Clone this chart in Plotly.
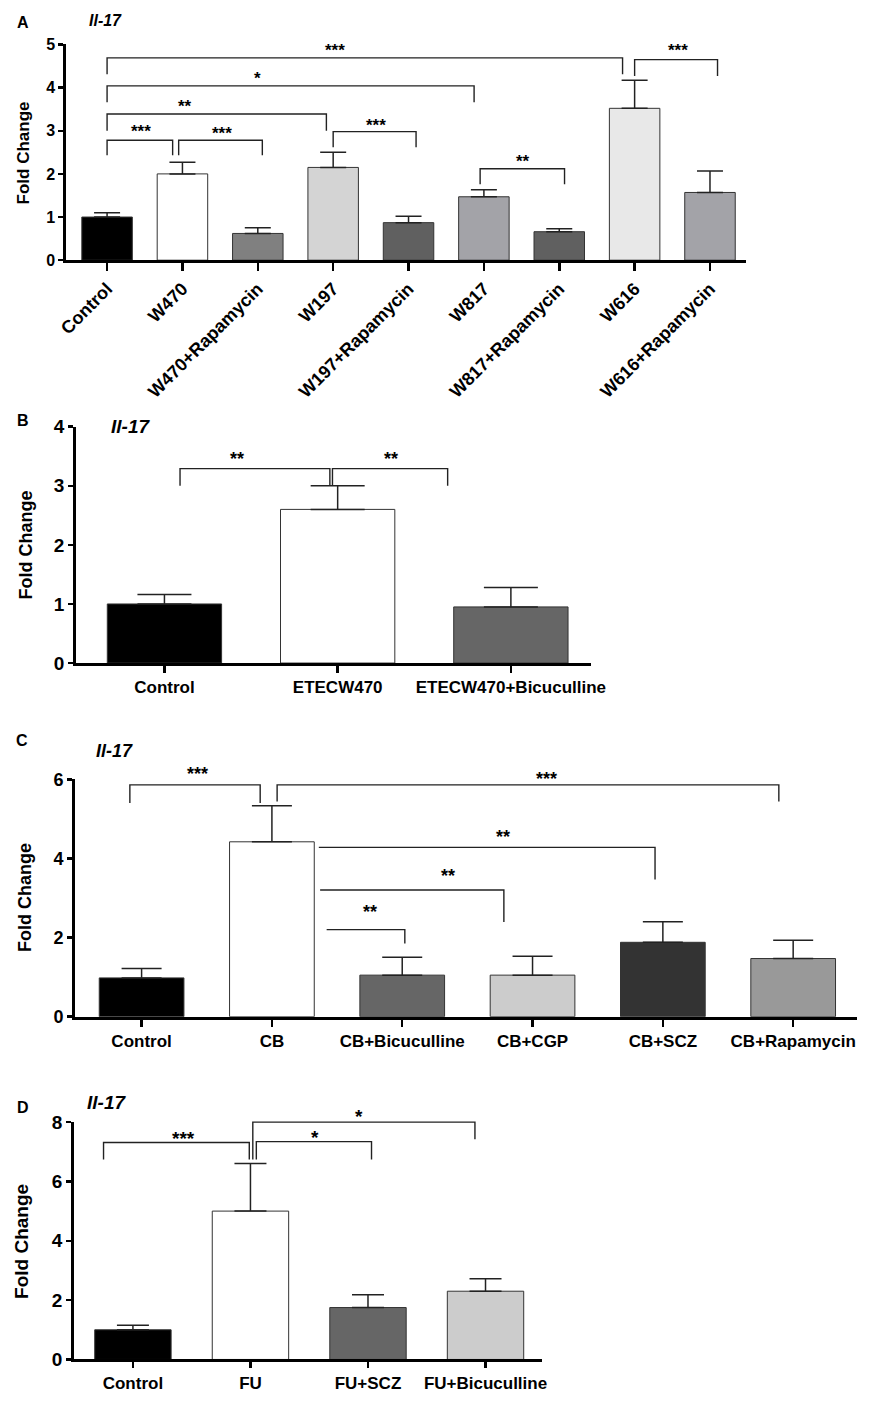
import plotly.graph_objects as go

W, H = 873, 1401
FONT = "Liberation Sans, Arial, sans-serif"

# ---------------- data ----------------
a_cats = ["Control", "W470", "W470+Rapamycin", "W197", "W197+Rapamycin",
          "W817", "W817+Rapamycin", "W616", "W616+Rapamycin"]
a_vals = [1.0, 2.0, 0.62, 2.15, 0.87, 1.47, 0.66, 3.52, 1.57]
a_errs = [0.10, 0.27, 0.13, 0.35, 0.15, 0.16, 0.07, 0.65, 0.50]
a_colors = ["#000000", "#ffffff", "#808080", "#d4d4d4", "#606060",
            "#a3a3a8", "#606060", "#e8e8e8", "#a3a3a8"]

b_cats = ["Control", "ETECW470", "ETECW470+Bicuculline"]
b_vals = [1.0, 2.6, 0.95]
b_errs = [0.16, 0.40, 0.33]
b_colors = ["#000000", "#ffffff", "#666666"]

c_cats = ["Control", "CB", "CB+Bicuculline", "CB+CGP", "CB+SCZ", "CB+Rapamycin"]
c_vals = [0.98, 4.42, 1.05, 1.05, 1.88, 1.47]
c_errs = [0.24, 0.91, 0.45, 0.48, 0.52, 0.46]
c_colors = ["#000000", "#ffffff", "#666666", "#cccccc", "#333333", "#999999"]

d_cats = ["Control", "FU", "FU+SCZ", "FU+Bicuculline"]
d_vals = [1.0, 5.0, 1.75, 2.3]
d_errs = [0.15, 1.6, 0.43, 0.42]
d_colors = ["#000000", "#ffffff", "#666666", "#cccccc"]

# significance brackets: (x_left, x_right, y_top, y_left_end, y_right_end, label, label_x, label_y)
a_sig = [
    (0.0, 0.87, 2.78, 2.43, 2.43, "***", 0.45, 3.08),
    (0.95, 2.06, 2.78, 2.43, 2.43, "***", 1.53, 3.04),
    (0.0, 2.91, 3.39, 3.0, 3.0, "**", 1.03, 3.66),
    (3.0, 4.1, 2.98, 2.62, 2.62, "***", 3.57, 3.21),
    (0.0, 4.87, 4.04, 3.66, 3.66, "*", 2.0, 4.31),
    (4.95, 6.07, 2.12, 1.76, 1.76, "**", 5.52, 2.39),
    (0.0, 6.84, 4.69, 4.31, 4.31, "***", 3.03, 4.96),
    (7.0, 8.1, 4.65, 4.27, 4.27, "***", 7.58, 4.96),
]
b_sig = [
    (0.09, 0.955, 3.29, 3.0, 3.0, "**", 0.42, 3.52),
    (0.97, 1.635, 3.29, 3.0, 3.0, "**", 1.31, 3.52),
]
c_sig = [
    (-0.09, 0.91, 5.86, 5.4, 5.4, "***", 0.43, 6.23),
    (1.04, 4.89, 5.86, 5.44, 5.44, "***", 3.11, 6.10),
    (1.36, 3.94, 4.28, 4.28, 3.47, "**", 2.77, 4.65),
    (1.37, 2.78, 3.20, 3.20, 2.39, "**", 2.35, 3.66),
    (1.42, 2.02, 2.20, 2.20, 1.85, "**", 1.75, 2.74),
]
d_sig = [
    (-0.25, 0.99, 7.31, 6.74, 6.74, "***", 0.43, 7.59),
    (1.05, 2.03, 7.34, 6.74, 6.74, "*", 1.55, 7.60),
    (1.02, 2.91, 8.0, 6.74, 7.42, "*", 1.92, 8.31),
]

a_yticks = [0, 1, 2, 3, 4, 5]
b_yticks = [0, 1, 2, 3, 4]
c_yticks = [0, 2, 4, 6]
d_yticks = [0, 2, 4, 6, 8]

# ---------------- layout geometry (pixels) ----------------
def px_x(p):
    return p / W

def px_y(p):
    return 1 - p / H

panels = [
    dict(letter="A", cats=a_cats, vals=a_vals, errs=a_errs, colors=a_colors, sig=a_sig,
         yticks=a_yticks, ymax=5, xr=[-0.54, 8.48], xpx=(59, 758), ypx=(35, 254),
         bw=0.67, cap=13, xfont=18, yfont=16, tickangle=-45, star=17, xticklen=8,
         letter_pos=(14, 13), title_pos=(99, 11), title_size=16,
         ytitle_pos=(15, 145), ytitle_size=17),
    dict(letter="B", cats=b_cats, vals=b_vals, errs=b_errs, colors=b_colors, sig=b_sig,
         yticks=b_yticks, ymax=4, xr=[-0.51, 2.46], xpx=(69, 598), ypx=(423, 663),
         bw=0.66, cap=27, xfont=17, yfont=19, tickangle=0, star=18, xticklen=7,
         letter_pos=(14, 417), title_pos=(125, 423), title_size=19,
         ytitle_pos=(17, 543), ytitle_size=18),
    dict(letter="C", cats=c_cats, vals=c_vals, errs=c_errs, colors=c_colors, sig=c_sig,
         yticks=c_yticks, ymax=6, xr=[-0.51, 5.49], xpx=(68, 872), ypx=(781, 1022),
         bw=0.65, cap=20, xfont=17, yfont=18, tickangle=0, star=18, xticklen=7,
         letter_pos=(13, 742), title_pos=(108, 752), title_size=18,
         ytitle_pos=(17, 901), ytitle_size=18),
    dict(letter="D", cats=d_cats, vals=d_vals, errs=d_errs, colors=d_colors, sig=d_sig,
         yticks=d_yticks, ymax=8, xr=[-0.5, 3.48], xpx=(67, 548), ypx=(1129, 1370),
         bw=0.65, cap=16, xfont=17, yfont=19, tickangle=0, star=19, xticklen=6,
         letter_pos=(14, 1114), title_pos=(100, 1109), title_size=19,
         ytitle_pos=(13, 1250), ytitle_size=19),
]

fig = go.Figure()
shapes = []
annotations = []
layout = dict(
    width=W, height=H, margin=dict(l=0, r=0, t=0, b=0),
    paper_bgcolor="white", plot_bgcolor="white", showlegend=False,
    font=dict(family=FONT, color="black"),
)

for i, p in enumerate(panels):
    n = "" if i == 0 else str(i + 1)
    xa, ya = "x" + n, "y" + n
    xdom = [px_x(p["xpx"][0]), px_x(p["xpx"][1])]
    ydom = [px_y(p["ypx"][1]), px_y(p["ypx"][0])]

    fig.add_trace(go.Bar(
        x=p["cats"], y=p["vals"], width=p["bw"],
        marker=dict(color=p["colors"], line=dict(color="#333333", width=1)),
        error_y=dict(type="data", symmetric=False, array=p["errs"],
                     arrayminus=[0] * len(p["errs"]), color="#222222",
                     thickness=1.5, width=p["cap"]),
        xaxis=xa, yaxis=ya, hoverinfo="skip",
    ))

    layout["xaxis" + n] = dict(
        domain=xdom, anchor=ya, type="category", range=p["xr"],
        showline=True, linewidth=3, linecolor="black", mirror=False,
        ticks="outside", ticklen=p["xticklen"], tickwidth=2.5, tickcolor="black",
        tickangle=p["tickangle"], showgrid=False, zeroline=False,
        tickfont=dict(family=FONT, size=p["xfont"], color="black", weight="bold"),
        fixedrange=True,
    )
    layout["yaxis" + n] = dict(
        domain=ydom, anchor=xa, range=[0, p["ymax"]],
        tickvals=p["yticks"], ticktext=[str(t) for t in p["yticks"]],
        showline=True, linewidth=3, linecolor="black",
        ticks="outside", ticklen=5, tickwidth=2.5, tickcolor="black",
        showgrid=False, zeroline=False,
        tickfont=dict(family=FONT, size=p["yfont"], color="black", weight="bold"),
        fixedrange=True,
    )

    def ypaper(v, p=p, ydom=ydom):
        return ydom[0] + v / p["ymax"] * (ydom[1] - ydom[0])

    for (xl, xr_, yt, yl, yr, lab, lx, lyv) in p["sig"]:
        path = "M {xl},{yl} L {xl},{yt} L {xr},{yt} L {xr},{yr}".format(
            xl=xl, xr=xr_, yt=ypaper(yt), yl=ypaper(yl), yr=ypaper(yr))
        shapes.append(dict(type="path", xref=xa, yref="paper", path=path,
                           line=dict(color="#222222", width=1.4)))
        annotations.append(dict(
            x=lx, y=ypaper(lyv), xref=xa, yref="paper", text="<b>" + lab + "</b>",
            showarrow=False, xanchor="center", yanchor="middle", yshift=-4,
            font=dict(family=FONT, size=p["star"], color="black")))

    lx_, ly_ = p["letter_pos"]
    annotations.append(dict(
        x=px_x(lx_), y=px_y(ly_), xref="paper", yref="paper",
        text="<b>" + p["letter"] + "</b>", showarrow=False,
        xanchor="center", yanchor="middle",
        font=dict(family=FONT, size=16, color="black")))
    tx, ty = p["title_pos"]
    annotations.append(dict(
        x=px_x(tx), y=px_y(ty), xref="paper", yref="paper",
        text="<b><i>Il-17</i></b>", showarrow=False,
        xanchor="center", yanchor="middle",
        font=dict(family=FONT, size=p["title_size"], color="black")))
    yx, yy = p["ytitle_pos"]
    annotations.append(dict(
        x=px_x(yx), y=px_y(yy), xref="paper", yref="paper",
        text="<b>Fold Change</b>", showarrow=False, textangle=-90,
        xanchor="center", yanchor="middle",
        font=dict(family=FONT, size=p["ytitle_size"], color="black")))

layout["shapes"] = shapes
layout["annotations"] = annotations
fig.update_layout(**layout)
fig.write_html("out.html",
               config={"displayModeBar": False, "staticPlot": True},
               post_script="document.body.style.margin='0';document.body.style.overflow='hidden';")
